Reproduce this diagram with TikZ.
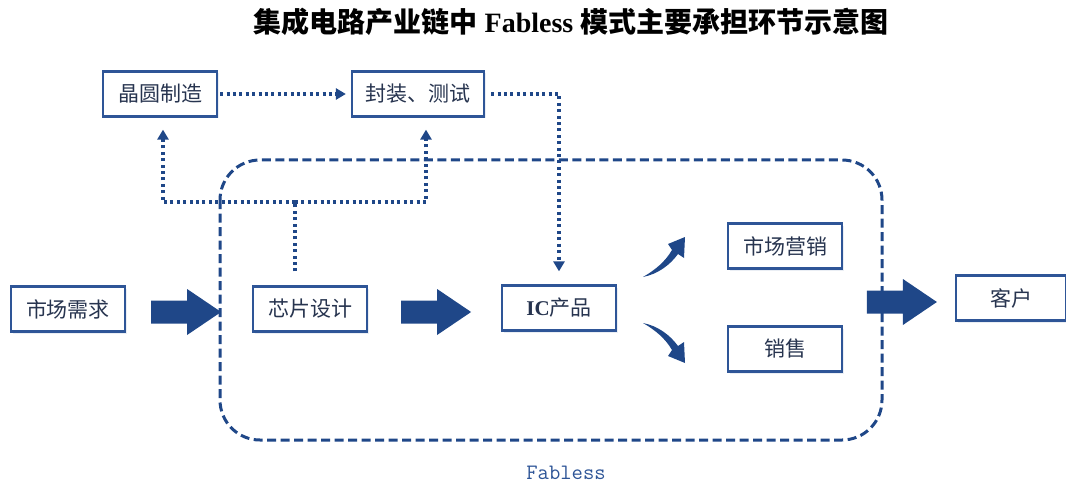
\documentclass[tikz,border=0pt]{standalone}
\usepackage{fontspec}
\setmainfont{Liberation Serif}
\newfontfamily\cjk{Noto Sans CJK SC}
\usetikzlibrary{calc}
\usetikzlibrary{arrows.meta}
\usetikzlibrary{shadows}
\definecolor{fabblue}{HTML}{1F4788}
\definecolor{boxline}{HTML}{2E5597}
\definecolor{boxtext}{HTML}{27344F}
\newcommand*{\blkarrow}[1]{\fill [fabblue] (#1) ++(0,-11.5) -- ++(36,0) -- ++(0,-11.5) -- ++(34,23) -- ++(-34,23) -- ++(0,-11.5) -- ++(-36,0) -- cycle;}
\newcommand*{\bendarrow}[1]{\begin{scope}[#1]
        \fill [fabblue] (643,277) .. controls (655,270) and (665,262) .. (672,250) -- (668,244) -- (685,237) -- (684,258) -- (678,254) .. controls (670,265) and (658,274) .. (643,277) -- cycle;
    \end{scope}}

\begin{document}
\begin{tikzpicture}[x=1pt, y=-1pt,
        box/.style={draw=boxline, line width=2.2pt, fill=white, text=boxtext, minimum width=114pt, minimum height=45pt, inner sep=0pt, font=\cjk\fontsize{21}{21}\selectfont, drop shadow={shadow xshift=2pt, shadow yshift=-2pt, fill=boxline!20}},
        dotline/.style={draw=fabblue, line width=3.2pt, dash pattern=on 3pt off 3.4pt},
        dothead/.style={-{Triangle[length=10pt,width=11pt]}}]
    \useasboundingbox (0,0) rectangle (1066,484);
    \node [font=\fontsize{28}{28}\selectfont\bfseries] (title) at (571,22) {{\cjk 集成电路产业链中} Fabless {\cjk 模式主要承担环节示意图}};

    % Fabless frame
    \draw [fabblue, line width=3pt, dash pattern=on 9pt off 4.5pt, rounded corners=40pt] (220,160) rectangle (882,440);
    \node [text=boxline, font=\ttfamily\fontsize{22}{22}\selectfont] (fab) at (566,473) {Fabless};

    \node [box] (wafer) at (160,94) {晶圆制造};
    \node [box, minimum width=132pt] (pack) at (418,94) {封装、测试};
    \node [box] (demand) at (68,309) {市场需求};
    \node [box] (design) at (310,309) {芯片设计};
    \node [box] (ic) at (559,308) {{\rmfamily\bfseries IC}产品};
    \node [box] (mkt) at (785,246) {市场营销};
    \node [box] (sale) at (785,349) {销售};
    \node [box, minimum width=110pt] (cust) at (1011,298) {客户};

    % dotted flows
    \draw [dotline, dothead, shorten <=2pt, shorten >=5pt] (wafer.east) -- (pack.west);
    \draw [dotline, dothead, shorten <=6pt, shorten >=13pt] (pack.east) -| (ic.north);
    \coordinate (split) at ($(design.north)+(-15,-83.5)$);
    \draw [dotline, shorten <=14pt] (design.north -| split) -- (split);
    \draw [dotline, dothead, shorten >=12pt] (split) -| ([xshift=3pt]wafer.south);
    \draw [dotline, dothead, shorten >=12pt] (split) -| ([xshift=8pt]pack.south);

    % block arrows
    \blkarrow{$(demand.east)+(25,3)$}
    \blkarrow{$(design.east)+(33,3)$}
    \blkarrow{$(cust.west)+(-88,4)$}
    \bendarrow{}
    \bendarrow{shift={(0,600)}, yscale=-1}
\end{tikzpicture}
\end{document}
